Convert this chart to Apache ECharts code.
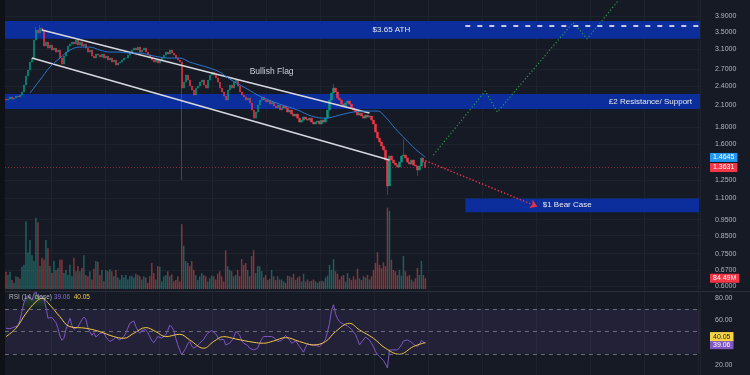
<!DOCTYPE html>
<html><head><meta charset="utf-8">
<script src="https://cdn.jsdelivr.net/npm/echarts@6/dist/echarts.min.js"></script>
<style>html,body{margin:0;padding:0;background:#161a25;overflow:hidden}#c{width:750px;height:375px}</style>
</head><body><div id="c"></div>
<script>
// ---------- DATA ----------
const firstOpen = 2.19;
const closes = [
2.178,2.193,2.224,2.193,2.208,2.239,2.224,2.254,2.303,2.416,
2.572,2.681,2.834,2.914,3.302,3.539,3.465,3.588,3.515,3.167,
3.257,3.123,3.189,3.080,3.123,3.038,3.080,2.914,2.795,2.955,
3.038,3.167,3.211,3.257,3.211,3.302,3.189,3.257,3.167,3.211,
3.123,3.038,3.080,2.955,2.914,2.996,2.975,2.934,2.996,2.914,
2.955,2.874,2.914,2.834,2.874,2.776,2.815,2.834,2.874,2.914,
2.914,2.975,3.017,3.080,3.123,3.080,3.145,3.038,3.080,3.123,
3.038,2.975,2.934,2.874,2.834,2.874,2.815,2.874,2.914,2.975,
3.038,2.996,3.080,3.017,2.975,2.914,2.874,2.834,2.366,2.467,
2.590,2.502,2.400,2.334,2.254,2.366,2.400,2.467,2.502,2.416,
2.366,2.502,2.590,2.644,2.590,2.537,2.467,2.366,2.303,2.239,
2.178,2.334,2.416,2.366,2.467,2.502,2.400,2.303,2.254,2.224,
2.178,2.208,2.133,2.032,1.921,2.004,2.103,2.178,2.224,2.178,
2.148,2.178,2.118,2.148,2.089,2.060,2.103,2.032,2.060,2.089,
2.060,2.004,2.032,1.976,1.949,1.976,1.921,1.869,1.895,1.935,
1.908,1.895,1.921,1.869,1.844,1.869,1.882,1.844,1.895,1.869,
1.921,2.032,2.178,2.287,2.366,2.303,2.208,2.178,2.118,2.089,
2.133,2.163,2.118,2.060,2.032,2.004,1.962,1.990,1.949,1.921,
1.962,1.935,1.949,1.895,1.844,1.744,1.673,1.628,1.583,1.539,
1.436,1.200,1.477,1.436,1.407,1.387,1.368,1.416,1.477,1.487,
1.457,1.416,1.397,1.436,1.387,1.378,1.340,1.378,1.457,1.416,1.3631
];
const wickHigh = {15: 3.62, 17: 3.66, 164: 2.433, 199: 1.661};
const wickLow = {88: 1.25, 191: 1.127, 206: 1.285};
const volumes = [
135,110,135,70,50,100,95,80,175,190,
530,290,385,265,220,560,525,180,245,230,
385,320,180,125,220,150,165,230,230,125,
150,110,190,100,245,140,180,140,165,265,
110,100,140,75,160,220,215,110,150,60,
150,140,155,140,100,150,90,75,110,90,
110,75,100,105,90,120,110,100,75,100,
90,50,100,205,125,75,180,175,60,100,
110,140,100,115,60,70,100,60,510,340,
220,205,180,220,150,110,70,100,125,110,
100,60,85,105,100,75,120,140,100,60,
305,180,150,140,100,110,150,100,235,190,
205,150,100,260,305,125,180,180,140,90,
110,70,80,150,100,70,100,75,75,60,
50,105,100,90,120,70,90,100,60,120,
60,75,60,65,75,60,50,60,65,60,
90,105,190,150,235,140,120,75,100,110,
60,125,85,70,100,75,160,85,70,100,
90,110,75,100,150,205,290,190,165,210,
180,640,615,230,150,140,110,150,105,260,
140,100,110,75,60,85,165,110,220,110,84.49
];
const rsi = [
52.9,53,52.5,53.5,53.8,54.5,55.3,60,68,76,
80.5,82.5,80,78,84,86,80,82,83.5,80,
72,62,62.6,62.5,61.8,58,53,46,42,44,
51.5,57,61.8,55.5,52,52.5,54,57.5,60.5,63,
61,53.5,50,46.5,49,45,46,48.4,49.5,49,
45,43,41,41.8,43,44.8,44,42.4,44,45.5,
48.5,53,57.3,59,59.5,54.5,51,48.4,51,52.5,
51.7,49,45.4,42,40,42.5,45.5,46.9,44,43,
47,51,55.8,54,51,44,38,33.5,29,28.5,
35,39,41,37,35,36,37.5,39.5,41,43,
46,48.5,49.9,50.8,50.5,48,45,42.4,43,43,
38,37,39.5,41,44,50,49.5,46.9,42,39.5,
39.5,37.5,35,34,33.5,32.3,35,39.5,43,45.5,
46.5,45.5,43.9,45.5,46.5,43.5,41,39.5,42,44.5,
46.5,45,42.4,39.5,38,41.5,40,36.5,34,31.5,
36,39,39.5,37.5,36.5,37.5,37.5,36.5,38,40,
43,50,57.3,69,74,66,61.5,58.8,58,56.5,
55,55,55.8,52,49.5,47.5,43,38,40.5,42,
45,44,42.4,39.5,36.5,32,29.5,27.6,26,24,
21,17.3,33.5,33.5,33.5,33,33.5,35.5,38,41.5,
42.4,42.4,41.5,40.5,38.5,37.5,36.5,38.5,42,41,39.06
];
const rsiMaIdx = [0,5,10,15,18,22,27,32,40,47,54,59,64,70,75,80,87,92,99,104,109,115,124,129,134,140,147,154,160,165,172,177,184,190,197,204,210];
const rsiMaVal = [45.4,52.9,66.3,76.7,79.7,73.7,63.2,54.3,52.9,49.9,45.4,43.9,48.4,53.5,49.9,45.4,47.5,42.4,35,41,45.4,43.3,40.3,39.5,41.5,44.5,41,38,41,49.9,57.3,51.4,43.9,35,29.6,36.5,40.05];
const maIdx = [12,17,22,27,32,37,42,47,52,57,62,67,72,77,82,87,92,97,102,107,112,120,128,137,146,153,160,167,174,182,186,190,195,200,205,210];
const maVal = [2.286,2.502,2.738,2.914,3.080,3.145,3.145,3.080,3.038,3.038,3.017,3.017,2.975,2.934,2.914,2.914,2.834,2.776,2.719,2.644,2.520,2.366,2.224,2.118,2.032,1.949,1.921,1.962,2.004,2.018,2.018,1.935,1.785,1.661,1.550,1.4645];
const tickPrices = [3.9,3.5,3.1,2.7,2.4,2.1,1.8,1.6,1.25,1.1,0.95,0.85,0.75,0.67,0.6];
const rsiTicks = [20,60,80];
const flagUpper = [[18,3.54],[182,1.99]];
const flagLower = [[13,2.914],[192,1.436]];
const bullPath = [[214,1.487],[240,2.32],[246,2.004],[284,3.73],[291,3.33],[310,4.6]];
const bearPath = [[210,1.43],[266,1.04]];
const athBand = [3.33,3.77], athLevel = 3.65, athLabelPos = [193,3.55];
const resBand = [2.046,2.27];
const bearBand = [1.0,1.10], bearBandStart = 230, bearLabelPos = [281,1.05];
const flagLabelPos = [133,2.66];
const lastClose = 1.3631, lastMA = 1.4645, lastVol = 84.49, lastRsi = 39.06, lastRsiMa = 40.05;
const priceMin = 0.583, priceMax = 4.36;
const rsiMin = 11, rsiMax = 85.4, volMax = 700;
const nCat = 348;

// ---------- BUILD ----------
const L = Math.log;
const cats = Array.from({length: nCat}, (_, i) => String(i));
const UP = '#089981', DOWN = '#f23645';
const candleData = closes.map((c, i) => {
  const o = i === 0 ? firstOpen : closes[i - 1];
  const hi = wickHigh[i] !== undefined ? wickHigh[i] : Math.max(o, c);
  const lo = wickLow[i] !== undefined ? wickLow[i] : Math.min(o, c);
  return [L(o), L(c), L(lo), L(hi)];
});
const volData = volumes.map((v, i) => {
  const o = i === 0 ? firstOpen : closes[i - 1];
  return {value: v, itemStyle: {color: closes[i] >= o ? 'rgba(38,166,154,0.5)' : 'rgba(239,83,80,0.5)'}};
});
const lnPairs = arr => arr.map(p => [p[0], L(p[1])]);
const maData = maIdx.map((x, k) => [x, L(maVal[k])]);
const rsiMaData = rsiMaIdx.map((x, k) => [x, rsiMaVal[k]]);
const obData = rsi.map((v, i) => (i >= 9 && i <= 20) ? [i, v] : null).filter(Boolean);
const FONT = 'Liberation Sans, Arial, sans-serif';
const BAND = '#0b2e9c';
const HIDDEN = {color: 'rgba(0,0,0,0)', width: 0};
const tag = (txt, bg, fg, off) => ({show: true, position: 'end', distance: 10, formatter: () => txt,
  backgroundColor: bg, color: fg || '#fff', padding: [1, 3, 1, 3], fontSize: 7, fontFamily: FONT, offset: off || [0, 0]});

const option = {
  backgroundColor: '#161a25',
  animation: false,
  textStyle: {fontFamily: FONT},
  grid: [
    {left: 5, right: 50, top: 0, height: 290},
    {left: 5, right: 50, top: 200, height: 89},
    {left: 5, right: 50, top: 292, height: 83}
  ],
  xAxis: [0, 1, 2].map(g => ({
    type: 'category', gridIndex: g, data: cats, boundaryGap: true,
    axisLine: {show: false}, axisTick: {show: false}, axisLabel: {show: false},
    splitLine: {show: g !== 1, interval: (idx) => idx % 27 === 23, lineStyle: {color: '#1e222d', width: 1}}
  })),
  yAxis: [
    {type: 'value', gridIndex: 0, position: 'right', min: L(priceMin), max: L(priceMax),
     axisLine: {show: false}, axisTick: {show: false, customValues: tickPrices.map(L)},
     axisLabel: {customValues: tickPrices.map(L), formatter: v => Math.exp(v).toFixed(4), color: '#b2b5be', fontSize: 7, margin: 15},
     splitLine: {show: true, lineStyle: {color: '#1e222d'}}},
    {type: 'value', gridIndex: 1, min: 0, max: volMax, show: false},
    {type: 'value', gridIndex: 2, position: 'right', min: rsiMin, max: rsiMax,
     axisLine: {show: false}, axisTick: {show: false, customValues: rsiTicks},
     axisLabel: {customValues: rsiTicks, formatter: v => v.toFixed(2), color: '#b2b5be', fontSize: 7, margin: 15},
     splitLine: {show: false}}
  ],
  series: [
    {type: 'line', name: 'zones', data: [], xAxisIndex: 0, yAxisIndex: 0, z: 1, silent: true,
     markArea: {silent: true, itemStyle: {color: BAND}, label: {show: false}, data: [
       [{yAxis: L(athBand[0])}, {yAxis: L(athBand[1])}],
       [{yAxis: L(resBand[0]), name: '£2 Resistance/ Support',
         label: {show: true, position: 'insideRight', distance: 8, color: '#e6e8ee', fontSize: 8, fontFamily: FONT}},
        {yAxis: L(resBand[1])}],
       [{coord: [bearBandStart, L(bearBand[1])]}, {coord: [nCat - 1, L(bearBand[0])]}]
     ]},
     markPoint: {silent: true, symbol: 'circle', symbolSize: 0, itemStyle: {color: 'rgba(0,0,0,0)'},
       label: {show: true, position: 'inside', color: '#e6e8ee', fontSize: 8, fontFamily: FONT, formatter: p => p.name},
       data: [
         {name: '$3.65 ATH', coord: [athLabelPos[0], L(athLabelPos[1])]},
         {name: '$1 Bear Case', coord: [bearLabelPos[0], L(bearLabelPos[1])]},
         {name: 'Bullish Flag', coord: [flagLabelPos[0], L(flagLabelPos[1])], label: {color: '#c9ccd4', fontSize: 8.5}}
       ]},
     markLine: {silent: true, symbol: 'none', label: {show: false}, data: [
       [{coord: [bearBandStart, L(athLevel)]}, {coord: [nCat - 1, L(athLevel)]}]
     ], lineStyle: {color: '#ffffff', type: [5, 7], width: 1.5}}
    },
    {type: 'candlestick', name: 'price', xAxisIndex: 0, yAxisIndex: 0, z: 3, data: candleData, barWidth: 1.7,
     itemStyle: {color: UP, color0: DOWN, borderColor: UP, borderColor0: DOWN, borderWidth: 0.5},
     markLine: {silent: true, symbol: 'none', data: [
       {yAxis: L(lastClose), lineStyle: {color: 'rgba(242,54,69,0.55)', type: [1, 2], width: 1}, label: tag(lastClose.toFixed(4), '#f23645')}
     ]}},
    {type: 'line', name: 'flagUpper', xAxisIndex: 0, yAxisIndex: 0, z: 4, data: lnPairs(flagUpper), showSymbol: false,
     lineStyle: {color: '#d6d8de', width: 1.6}, silent: true},
    {type: 'line', name: 'flagLower', xAxisIndex: 0, yAxisIndex: 0, z: 4, data: lnPairs(flagLower), showSymbol: false,
     lineStyle: {color: '#d6d8de', width: 1.6}, silent: true},
    {type: 'line', name: 'MA', xAxisIndex: 0, yAxisIndex: 0, z: 5, data: maData, smooth: 0.4, showSymbol: false,
     lineStyle: {color: '#2b78d0', width: 1}, silent: true,
     markLine: {silent: true, symbol: 'none', data: [
       {yAxis: L(lastMA), lineStyle: HIDDEN, label: tag(lastMA.toFixed(4), '#2196f3')}
     ]}},
    {type: 'line', name: 'bull', xAxisIndex: 0, yAxisIndex: 0, z: 4, data: lnPairs(bullPath), showSymbol: false,
     lineStyle: {color: '#2e9e48', width: 1.2, type: [1.2, 2.2]}, silent: true},
    {type: 'line', name: 'bear', xAxisIndex: 0, yAxisIndex: 0, z: 4, data: lnPairs(bearPath), showSymbol: false,
     lineStyle: {color: '#e0334d', width: 1.2, type: [1.2, 2.2]}, silent: true,
     markLine: {silent: true, symbol: ['none', 'arrow'], symbolSize: 7, label: {show: false},
       lineStyle: {color: '#e0334d', width: 1.2, type: [1.2, 2.2]},
       data: [[{coord: [bearPath[0][0], L(bearPath[0][1])]}, {coord: [bearPath[1][0], L(bearPath[1][1])]}]]}},
    {type: 'bar', name: 'volume', xAxisIndex: 1, yAxisIndex: 1, z: 2, data: volData, barWidth: 1.5, silent: true,
     markLine: {silent: true, symbol: 'none', data: [
       {yAxis: lastVol, lineStyle: HIDDEN, label: tag(lastVol.toFixed(2) + 'M', '#f23645')}
     ]}},
    {type: 'line', name: 'ob', xAxisIndex: 2, yAxisIndex: 2, z: 2, data: obData, showSymbol: false, smooth: false,
     lineStyle: {width: 0}, areaStyle: {origin: 70, color: new echarts.graphic.LinearGradient(0, 0, 0, 1, [
       {offset: 0, color: 'rgba(76,175,80,0.55)'}, {offset: 1, color: 'rgba(76,175,80,0.05)'}])}, silent: true},
    {type: 'line', name: 'RSI', xAxisIndex: 2, yAxisIndex: 2, z: 3, data: rsi, showSymbol: false,
     lineStyle: {color: '#7e57c2', width: 1}, silent: true,
     markArea: {silent: true, itemStyle: {color: 'rgba(126,87,194,0.12)'}, data: [[{yAxis: 70}, {yAxis: 30}]]},
     markLine: {silent: true, symbol: 'none', data: [
       {yAxis: 70, lineStyle: {color: '#6a6d78', type: [4, 4], width: 1}, label: {show: false}},
       {yAxis: 50, lineStyle: {color: '#6a6d78', type: [4, 4], width: 1}, label: {show: false}},
       {yAxis: 30, lineStyle: {color: '#6a6d78', type: [4, 4], width: 1}, label: {show: false}},
       {yAxis: lastRsi, lineStyle: HIDDEN, label: tag(lastRsi.toFixed(2), '#7e57c2', '#fff', [0, 1])}
     ]}},
    {type: 'line', name: 'RSI MA', xAxisIndex: 2, yAxisIndex: 2, z: 4, data: rsiMaData, smooth: 0.4, showSymbol: false,
     lineStyle: {color: '#f2c744', width: 1}, silent: true,
     markLine: {silent: true, symbol: 'none', data: [
       {yAxis: lastRsiMa, lineStyle: HIDDEN, label: tag(lastRsiMa.toFixed(2), '#f5d547', '#222', [0, -6])}
     ]}}
  ],
  graphic: [
    {type: 'rect', left: 0, top: 0, shape: {width: 5, height: 375}, style: {fill: '#0f1116'}, z: 100},
    {type: 'rect', left: 5, top: 291, shape: {width: 745, height: 1}, style: {fill: '#2a2e39'}, z: 100},
    {type: 'text', left: 9, top: 294, z: 100, style: {
      text: 'RSI (14, close) {p|' + lastRsi.toFixed(2) + '}  {y|' + lastRsiMa.toFixed(2) + '}',
      fill: '#b2b5be', font: '6.5px ' + FONT,
      rich: {p: {fill: '#8a6fd6', fontSize: 6.5, fontFamily: FONT}, y: {fill: '#f2c744', fontSize: 6.5, fontFamily: FONT}}
    }}
  ]
};
const chart = echarts.init(document.getElementById('c'), null, {renderer: 'canvas'});
chart.setOption(option);
</script></body></html>
